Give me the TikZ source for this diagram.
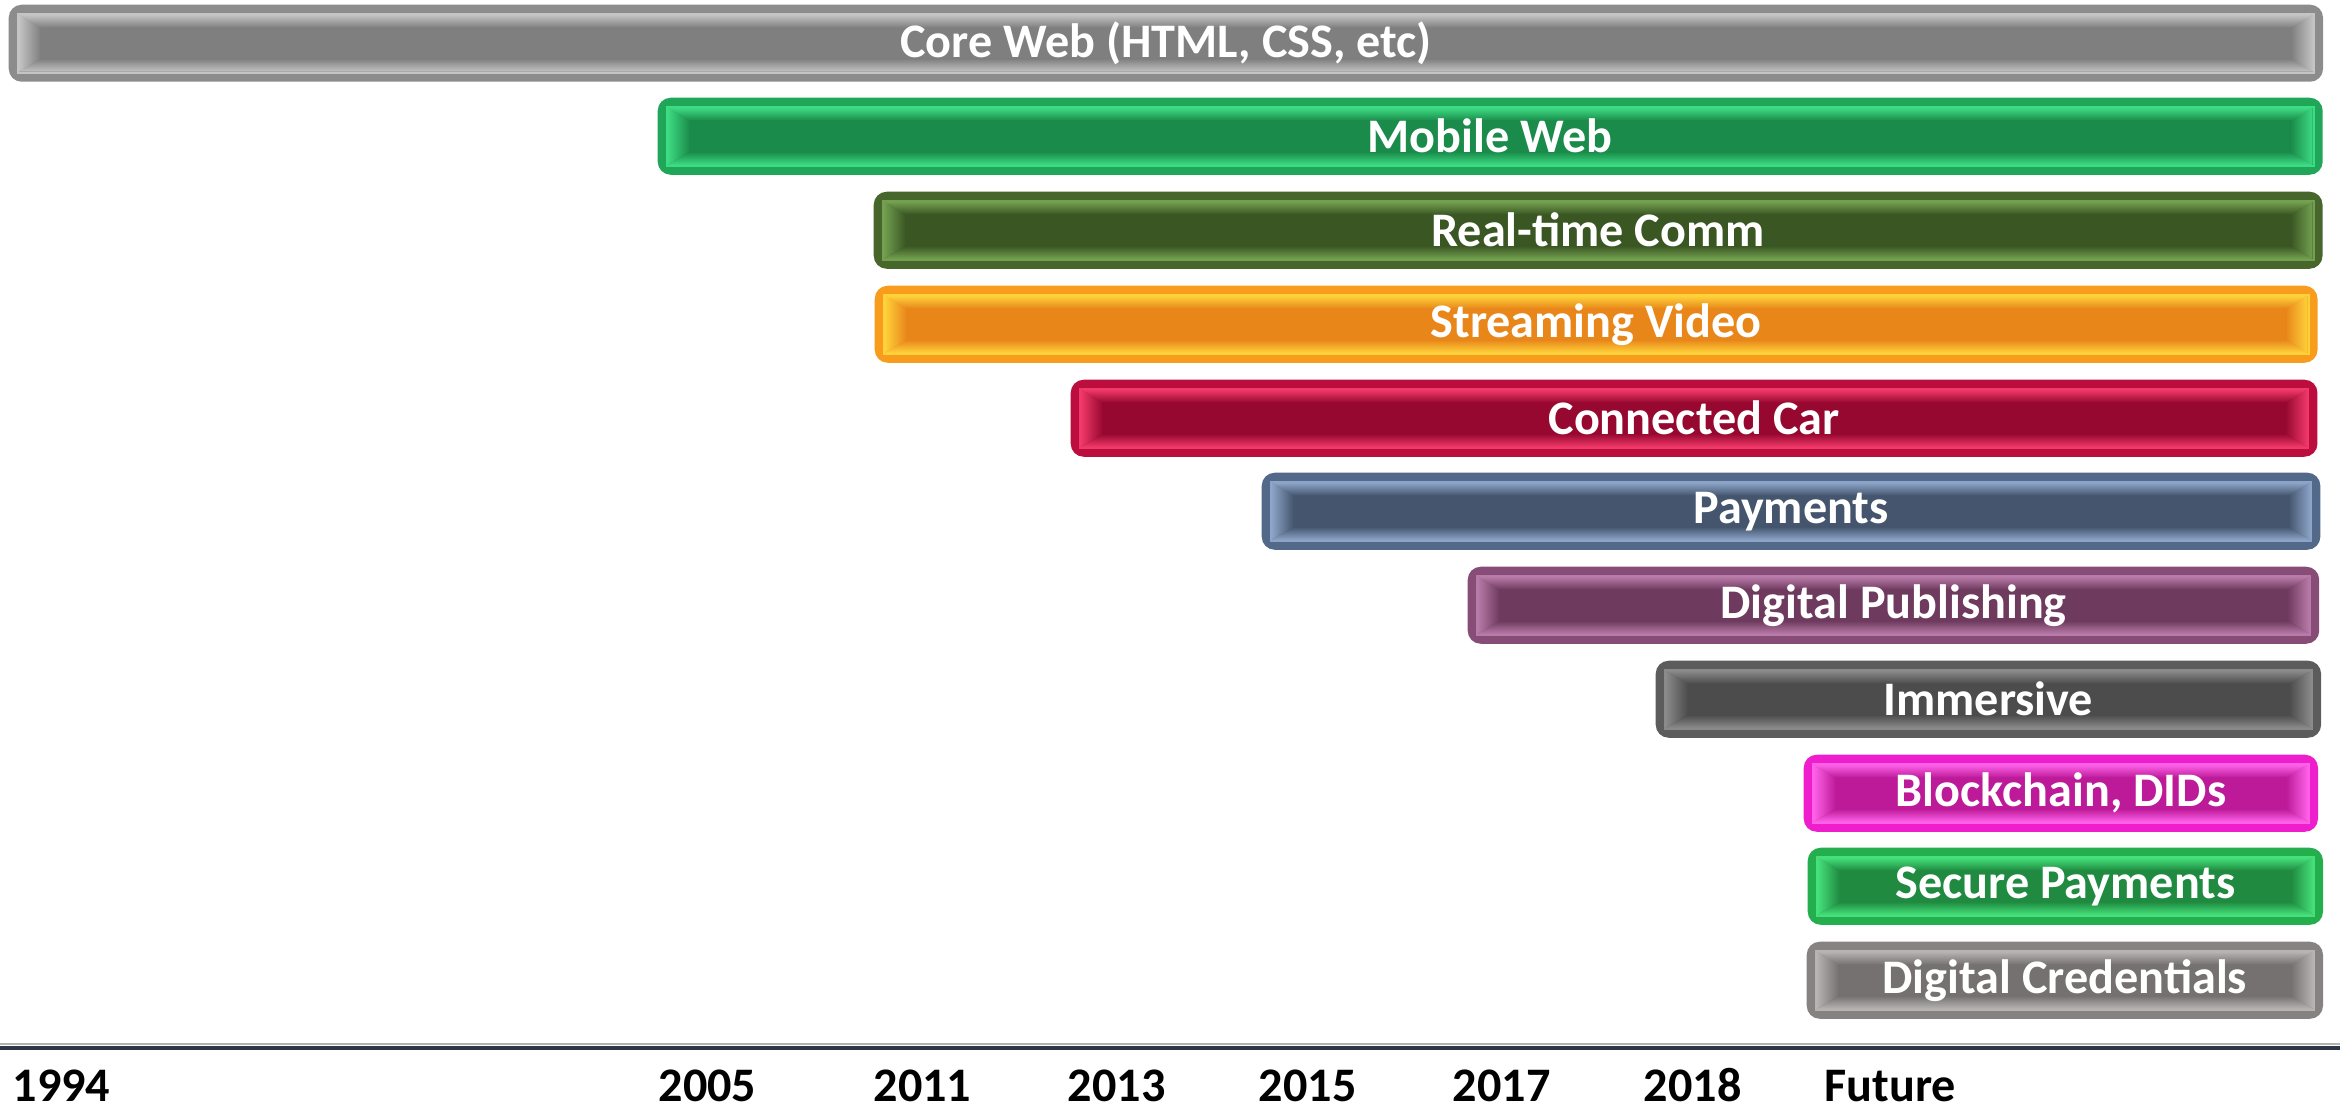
\documentclass[tikz,border=0pt]{standalone}
\usepackage{fontspec}
\setmainfont{Carlito}
\usetikzlibrary{calc}

\definecolor{core}{HTML}{7F7F7F}   \definecolor{coreRing}{HTML}{8C8C8C}   \definecolor{coreLite}{HTML}{C4C4C4}
\definecolor{mobile}{HTML}{1A8B4A} \definecolor{mobileRing}{HTML}{1FA659} \definecolor{mobileLite}{HTML}{3DDB83}
\definecolor{rtc}{HTML}{3A5623}    \definecolor{rtcRing}{HTML}{46662B}    \definecolor{rtcLite}{HTML}{73A050}
\definecolor{video}{HTML}{E8861A}  \definecolor{videoRing}{HTML}{F79C1C}  \definecolor{videoLite}{HTML}{FFD23A}
\definecolor{car}{HTML}{970830}    \definecolor{carRing}{HTML}{BC0E3E}    \definecolor{carLite}{HTML}{F0386A}
\definecolor{pay}{HTML}{44556D}    \definecolor{payRing}{HTML}{52698A}    \definecolor{payLite}{HTML}{8CA4C8}
\definecolor{pub}{HTML}{6E3A5E}    \definecolor{pubRing}{HTML}{874D76}    \definecolor{pubLite}{HTML}{B87AA8}
\definecolor{imm}{HTML}{4C4C4C}    \definecolor{immRing}{HTML}{5C5C5C}    \definecolor{immLite}{HTML}{8A8A8A}
\definecolor{chain}{HTML}{BC1A98}  \definecolor{chainRing}{HTML}{EE1ECC}  \definecolor{chainLite}{HTML}{FF60E8}
\definecolor{secpay}{HTML}{1F8A40} \definecolor{secpayRing}{HTML}{24AE4E} \definecolor{secpayLite}{HTML}{45E07A}
\definecolor{cred}{HTML}{767171}   \definecolor{credRing}{HTML}{878282}   \definecolor{credLite}{HTML}{B8B3B3}
\definecolor{axis}{HTML}{2E3545}

\tikzset{
  label font/.style={font=\fontsize{13.7}{16}\selectfont\bfseries},
  bar/.style={rectangle, rounded corners=1.3mm, inner sep=0pt, anchor=north west,
    minimum height=7.7mm, fill=#1Ring, text=white, label font,
    path picture={
      \coordinate (p) at ([shift={(8,8)}]path picture bounding box.north west);
      \coordinate (q) at ([shift={(-8,-8)}]path picture bounding box.south east);
      \fill[#1Lite, sharp corners] (p) rectangle (q);
      \coordinate (a) at ([shift={(2,2)}]p);
      \coordinate (b) at ([shift={(-2,-2)}]q);
      \fill[#1, sharp corners] (a) rectangle (b);
      \shade[sharp corners, left color=#1Lite, right color=#1]
        (a) -- ([shift={(22,13)}]a) -- ([shift={(22,-13)}]a |- b) -- (a |- b) -- cycle;
      \shade[sharp corners, left color=#1, right color=#1Lite]
        (b) -- ([shift={(-22,-13)}]b) -- ([shift={(-22,13)}]b |- a) -- (b |- a) -- cycle;
      \shade[sharp corners, top color=#1Lite, bottom color=#1]
        (a) -- (a -| b) -- ([shift={(-22,13)}]a -| b) -- ([shift={(22,13)}]a) -- cycle;
      \shade[sharp corners, top color=#1, bottom color=#1Lite]
        (b) -- (b -| a) -- ([shift={(22,-13)}]b -| a) -- ([shift={(-22,-13)}]b) -- cycle;
    }},
  year/.style={anchor=base west, inner sep=0pt, label font}
}

\begin{document}
\begin{tikzpicture}[x=0.01cm, y=-0.01cm]
  \useasboundingbox (0,0) rectangle (2340,1109);

  \node[bar=core,   minimum width=23.13cm] (coreweb)   at (8,4)     {Core Web (HTML, CSS, etc)};
  \node[bar=mobile, minimum width=16.64cm] (mobileweb) at (657,97)  {Mobile Web};
  \node[bar=rtc,    minimum width=14.48cm] (realtime)  at (873,191) {Real-time Comm};
  \node[bar=video,  minimum width=14.42cm] (streaming) at (874,285) {Streaming Video};
  \node[bar=car,    minimum width=12.46cm] (car)       at (1070,379) {Connected Car};
  \node[bar=pay,    minimum width=10.58cm] (payments)  at (1261,472) {Payments};
  \node[bar=pub,    minimum width=8.51cm]  (publish)   at (1467,566) {Digital Publishing};
  \node[bar=imm,    minimum width=6.65cm]  (immersive) at (1655,660) {Immersive};
  \node[bar=chain,  minimum width=5.14cm]  (chain)     at (1803,754) {Blockchain, DIDs};
  \node[bar=secpay, minimum width=5.15cm]  (secure)    at (1807,847) {Secure Payments};
  \node[bar=cred,   minimum width=5.16cm]  (creds)     at (1806,941) {Digital Credentials};

  \coordinate (axisL) at (0,1048);
  \coordinate (axisR) at (2340,1048);
  \draw[black!30, line width=0.5pt] ([yshift=1.2pt]axisL) -- ([yshift=1.2pt]axisR);
  \draw[axis, line width=1pt] (axisL) -- (axisR);

  \begin{scope}[every node/.style={year}]
    \node (y1994) at (12,1101)   {1994};
    \node (y2005) at (658,1101)  {2005};
    \node (y2011) at (873,1101)  {2011};
    \node (y2013) at (1067,1101) {2013};
    \node (y2015) at (1258,1101) {2015};
    \node (y2017) at (1452,1101) {2017};
    \node (y2018) at (1643,1101) {2018};
    \node (future) at (1824,1101) {Future};
  \end{scope}
\end{tikzpicture}
\end{document}
